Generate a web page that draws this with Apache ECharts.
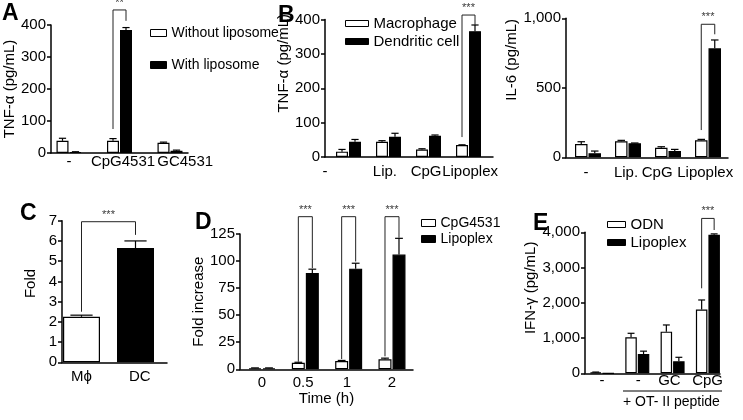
<!DOCTYPE html>
<html>
<head>
<meta charset="utf-8">
<script src="https://cdn.jsdelivr.net/npm/echarts@6/dist/echarts.min.js"></script>
<style>
  html, body { margin: 0; padding: 0; background: #fff; }
  #chart { width: 743px; height: 420px; }
</style>
</head>
<body>
<div id="chart"></div>
<script>
// ---- data ----
// A: TNF-α, with / without liposome
const catA = ['-', 'CpG4531', 'GC4531'];
const labelPosA = [0, 1.07, 2.3];
const noLipo = [38, 38, 32];
const noLipoErr = [8, 7, 2];
const withLipo = [3, 384, 7];
const withLipoErr = [1, 8, 2];
const bracketA = [[1, 1, 75, 447, 413]]; // left group, right group, left foot, top, right foot

// B: TNF-α, macrophage vs dendritic cell
const catB = ['-', 'Lip.', 'CpG', 'Lipoplex'];
const labelPosB = [-0.74, 0.91, 1.94, 3.04];
const macroTnf = [15.5, 44.5, 22, 35];
const macroTnfErr = [6.5, 3, 2, 0.5];
const dcTnf = [44.5, 59, 62, 366];
const dcTnfErr = [6.5, 10, 2, 18];
const bracketB = [[3, 3, 58, 413, 384]];

// B right: IL-6
const labelPosIl6 = [-0.05, 0.95, 1.73, 2.93];
const macroIl6 = [96, 115, 69, 122];
const macroIl6Err = [16, 7, 7, 7];
const dcIl6 = [29, 101, 45, 784];
const dcIl6Err = [16, 2, 12, 60];
const bracketIl6 = [[3, 3, 196, 957, 885]];

// C: fold, Mϕ vs DC
const catC = ['Mϕ', 'DC'];
const labelPosC = [0, 1.08];
const foldMphi = [2.25];
const foldMphiErr = [0.08];
const foldDc = [5.65];
const foldDcErr = [0.35];
const bracketC = [[0, 1, 2.5, 6.95, 6.3]];

// D: fold increase over time
const catD = ['0', '0.5', '1', '2'];
const labelPosD = [0, 0.95, 1.96, 3];
const cpgFold = [1, 6, 7.7, 9.3];
const cpgFoldErr = [0.3, 0.5, 0.5, 1];
const lipoFold = [1, 89, 93, 106];
const lipoFoldErr = [0.3, 3.5, 5, 15];
const bracketD = [[1, 1, 7, 141, 93.5], [2, 2, 9.5, 141, 99.6], [3, 3, 12, 141, 121.5]];

// E: IFN-γ
const catE = ['-', '-', 'GC', 'CpG'];
const labelPosE = [0, 1.03, 1.91, 2.99];
const odnIfn = [25, 1021, 1181, 1810];
const odnIfnErr = [10, 114, 190, 270];
const lipoIfn = [0, 548, 340, 3930];
const lipoIfnErr = [0, 80, 114, 25];
const bracketE = [[3, 3, 2411, 4394, 4065]];

// ---- layout of each panel (pixels) ----
const FONT = '"Liberation Sans", Arial, sans-serif';
const panels = [
  { box: [51, 25, 188, 153], c0: 69, step: 50.5, bw: 12, yMax: 400, yStep: 100,
    yName: 'TNF-α (pg/mL)', nameGap: 33, lift: 0, cats: catA, labelPos: labelPosA, labelMargin: 1,
    white: { name: 'Without liposome', groups: [0, 1, 2], vals: noLipo, errs: noLipoErr },
    black: { name: 'With liposome', groups: [0, 1, 2], vals: withLipo, errs: withLipoErr },
    brackets: bracketA, star: '**' },
  { box: [325, 19.5, 493, 157], c0: 348.5, step: 40, bw: 12, yMax: 400, yStep: 100,
    yName: 'TNF-α (pg/mL)', nameGap: 34, lift: 25, cats: catB, labelPos: labelPosB, labelMargin: 7,
    white: { name: 'Macrophage', groups: [0, 1, 2, 3], vals: macroTnf, errs: macroTnfErr },
    black: { name: 'Dendritic cell', groups: [0, 1, 2, 3], vals: dcTnf, errs: dcTnfErr },
    brackets: bracketB, star: '***' },
  { box: [566, 18.3, 728, 157.3], c0: 588, step: 40, bw: 12.5, yMax: 1000, yStep: 500,
    yName: 'IL-6 (pg/mL)', nameGap: 37.5, lift: 28, cats: catB, labelPos: labelPosIl6, labelMargin: 8,
    white: { name: 'Macrophage', groups: [0, 1, 2, 3], vals: macroIl6, errs: macroIl6Err },
    black: { name: 'Dendritic cell', groups: [0, 1, 2, 3], vals: dcIl6, errs: dcIl6Err },
    brackets: bracketIl6, star: '***' },
  { box: [62, 220.7, 167, 362.3], c0: 81.5, step: 54, bw: 37, single: true, yMax: 7, yStep: 1,
    yName: 'Fold', nameGap: 23.5, lift: 8, cats: catC, labelPos: labelPosC, labelMargin: 7,
    white: { name: 'Mϕ', groups: [0], vals: foldMphi, errs: foldMphiErr },
    black: { name: 'DC', groups: [1], vals: foldDc, errs: foldDcErr },
    brackets: bracketC, star: '***' },
  { box: [240, 234, 413, 369.3], c0: 262, step: 43.33, bw: 13, yMax: 125, yStep: 25,
    yName: 'Fold increase', nameGap: 30.5, lift: 0, cats: catD, labelPos: labelPosD, labelMargin: 6,
    xName: 'Time (h)',
    white: { name: 'CpG4531', groups: [0, 1, 2, 3], vals: cpgFold, errs: cpgFoldErr },
    black: { name: 'Lipoplex', groups: [0, 1, 2, 3], vals: lipoFold, errs: lipoFoldErr },
    brackets: bracketD, star: '***' },
  { box: [585, 232.3, 720, 373.3], c0: 602, step: 35.3, bw: 11.5, yMax: 4000, yStep: 1000,
    yName: 'IFN-γ (pg/mL)', nameGap: 46.5, lift: 15, cats: catE, labelPos: labelPosE, labelMargin: 0,
    white: { name: 'ODN', groups: [0, 1, 2, 3], vals: odnIfn, errs: odnIfnErr },
    black: { name: 'Lipoplex', groups: [0, 1, 2, 3], vals: lipoIfn, errs: lipoIfnErr },
    brackets: bracketE, star: '***' }
];

function thousands (v) {
  return String(v).replace(/\B(?=(\d{3})+(?!\d))/g, ',');
}

// label text for a custom tick value
function catAt (p, v) {
  let best = 0;
  p.labelPos.forEach((q, k) => {
    if (Math.abs(q - v) < Math.abs(p.labelPos[best] - v)) best = k;
  });
  return p.cats[best];
}

const grids = [];
const xAxes = [];
const yAxes = [];
const series = [];

panels.forEach((p, i) => {
  const [x0, y0, x1, y1] = p.box;
  const d = p.single ? 0 : (p.bw / 2 + 0.5) / p.step; // half offset of a bar pair
  const wx = g => g - d;
  const bx = g => g + d;
  const xMin = (x0 - p.c0) / p.step;
  const xMax = (x1 - p.c0) / p.step;
  grids.push({ left: x0, top: y0, width: x1 - x0, height: y1 - y0 });
  xAxes.push({
    type: 'value', gridIndex: i, min: xMin, max: xMax,
    name: p.xName || '', nameLocation: 'middle', nameGap: 21,
    nameTextStyle: { fontSize: 15, color: '#000', fontFamily: FONT },
    axisLine: { onZero: false, lineStyle: { color: '#000', width: 1.5 } },
    axisTick: { show: false },
    splitLine: { show: false },
    axisLabel: {
      show: true, showMinLabel: true, showMaxLabel: true, hideOverlap: false,
      customValues: p.labelPos.map(v => Math.min(Math.max(v, xMin), xMax)),
      margin: p.labelMargin,
      fontSize: 15, color: '#000', fontFamily: FONT,
      formatter: v => catAt(p, v)
    }
  });
  yAxes.push({
    type: 'value', gridIndex: i, min: 0, max: p.yMax, interval: p.yStep,
    name: p.yName, nameLocation: 'middle', nameGap: p.nameGap, nameRotate: 90,
    nameTextStyle: { fontSize: 15, color: '#000', fontFamily: FONT, padding: [0, 0, 0, p.lift * 2] },
    axisLine: { show: true, onZero: false, lineStyle: { color: '#000', width: 1.5 } },
    axisTick: { show: true, length: 4, lineStyle: { color: '#000', width: 1.5 } },
    splitLine: { show: false },
    axisLabel: { margin: 5, fontSize: 15, color: '#000', fontFamily: FONT, formatter: thousands }
  });

  const sets = [
    { s: p.white, pos: wx, color: '#fff' },
    { s: p.black, pos: bx, color: '#000' }
  ];
  sets.forEach(({ s, pos, color }) => {
    series.push({
      type: 'bar', name: s.name, xAxisIndex: i, yAxisIndex: i,
      barWidth: p.bw, barGap: '-100%',
      itemStyle: { color: color, borderColor: '#000', borderWidth: 1.2 },
      data: s.groups.map((g, k) => [pos(g), s.vals[k]]),
      z: 2
    });
    // error bars, upper half only
    series.push({
      type: 'custom', xAxisIndex: i, yAxisIndex: i, z: 3, silent: true,
      encode: { x: 0, y: 1 },
      data: s.groups.map((g, k) => [pos(g), s.vals[k], s.errs[k]]),
      renderItem (params, api) {
        const x = api.value(0);
        const y = api.value(1);
        const e = api.value(2);
        if (!e) return null;
        const a = api.coord([x, y]);
        const b = api.coord([x, y + e]);
        const hw = p.bw * 0.3;
        const st = { stroke: '#000', lineWidth: 1.2 };
        return {
          type: 'group',
          children: [
            { type: 'line', shape: { x1: a[0], y1: a[1], x2: b[0], y2: b[1] }, style: st },
            { type: 'line', shape: { x1: b[0] - hw, y1: b[1], x2: b[0] + hw, y2: b[1] }, style: st }
          ]
        };
      }
    });
  });

  // significance brackets
  p.brackets.forEach(br => {
    const [gl, gr, fl, top, fr] = br;
    const xl = wx(gl);
    const xr = bx(gr);
    series.push({
      type: 'line', xAxisIndex: i, yAxisIndex: i, clip: false, silent: true,
      symbol: 'none', lineStyle: { color: '#222', width: 1 }, z: 4,
      data: [[xl, fl], [xl, top], [xr, top], [xr, fr]]
    });
    series.push({
      type: 'scatter', xAxisIndex: i, yAxisIndex: i, clip: false, silent: true,
      symbolSize: 1, itemStyle: { color: 'rgba(0,0,0,0)' },
      label: { show: true, position: 'top', distance: 1, formatter: p.star,
        fontSize: 11, color: '#000', fontFamily: FONT },
      data: [[(xl + xr) / 2, top]]
    });
  });
});

const legendBase = {
  orient: 'vertical', selectedMode: false, icon: 'rect', padding: 0,
  itemStyle: { borderColor: '#000', borderWidth: 1 },
  textStyle: { color: '#000', fontFamily: FONT }
};

const letter = (t, x, y) => ({
  type: 'text', left: x, top: y,
  style: { text: t, font: 'bold 23px ' + FONT, fill: '#000' }
});

const chart = echarts.init(document.getElementById('chart'));
chart.setOption({
  backgroundColor: '#fff',
  animation: false,
  grid: grids,
  xAxis: xAxes,
  yAxis: yAxes,
  legend: [
    Object.assign({}, legendBase, { left: 150, top: 26, itemWidth: 16, itemHeight: 7, itemGap: 18,
      data: ['Without liposome', 'With liposome'], textStyle: Object.assign({}, legendBase.textStyle, { fontSize: 14 }) }),
    Object.assign({}, legendBase, { left: 345, top: 16, itemWidth: 23, itemHeight: 6, itemGap: 3,
      data: ['Macrophage', 'Dendritic cell'], textStyle: Object.assign({}, legendBase.textStyle, { fontSize: 15 }) }),
    Object.assign({}, legendBase, { left: 421, top: 216, itemWidth: 14, itemHeight: 7, itemGap: 2,
      data: ['CpG4531', 'Lipoplex'], textStyle: Object.assign({}, legendBase.textStyle, { fontSize: 14 }) }),
    Object.assign({}, legendBase, { left: 607, top: 217, itemWidth: 18, itemHeight: 6, itemGap: 3,
      data: ['ODN', 'Lipoplex'], textStyle: Object.assign({}, legendBase.textStyle, { fontSize: 15 }) })
  ],
  graphic: [
    letter('A', 2, 2),
    letter('B', 278, 4),
    letter('C', 20, 202),
    letter('D', 195, 211),
    letter('E', 533, 212),
    { type: 'line', shape: { x1: 623, y1: 391, x2: 722, y2: 391 }, style: { stroke: '#000', lineWidth: 1.2 } },
    { type: 'text', left: 623, top: 395,
      style: { text: '+ OT- II peptide', font: '14px ' + FONT, fill: '#000' } }
  ],
  series: series
});
</script>
</body>
</html>
